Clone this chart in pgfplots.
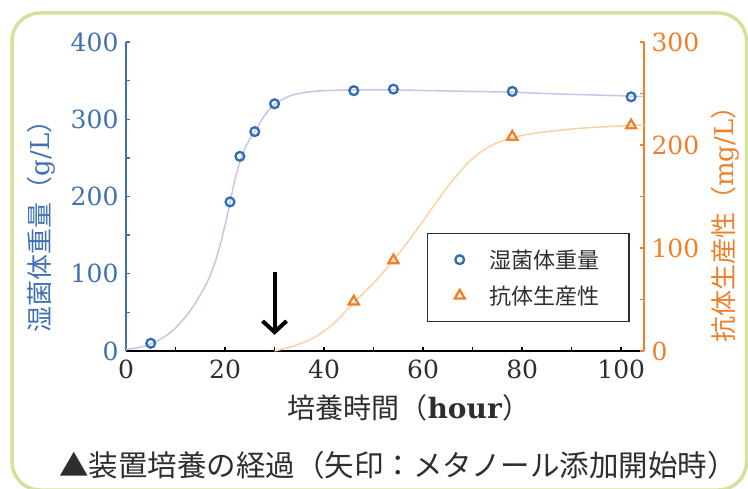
\documentclass[border=0pt]{standalone}
\usepackage{fontspec}
\setmainfont{DejaVu Serif}
\usepackage{pgfplots}
\pgfplotsset{compat=1.18}
\usetikzlibrary{arrows.meta}
\newfontfamily\jp{Noto Sans CJK JP}
\definecolor{bl}{HTML}{3F71B3}
\definecolor{blmark}{HTML}{2F6DB5}
\definecolor{blcurve}{HTML}{C3C6E8}
\definecolor{orr}{HTML}{F07F2A}
\definecolor{orcurve}{HTML}{FBD2A6}
\definecolor{framec}{HTML}{D3E29A}
\definecolor{txt}{HTML}{2E2E2E}
\begin{document}
\begin{tikzpicture}[x=1pt,y=1pt]
\path[use as bounding box] (0,0) rectangle (748,488);
\begin{scope}
\clip (0,0) rectangle (748,488);
\draw[framec, line width=3.5pt, rounded corners=28pt] (12,-2) rectangle (746.5,475);
\end{scope}
\begin{axis}[
  at={(126pt,137pt)}, anchor=south west,
  scale only axis, width=518pt, height=309pt,
  xmin=0, xmax=104.6, ymin=0, ymax=400,
  axis x line*=bottom, axis y line*=left,
  x axis line style={-, black, line width=2.5pt},
  y axis line style={-, bl, line width=2.5pt},
  xtick={0,20,...,100}, ytick={0,100,...,400},
  minor tick num=1,
  tick align=inside,
  major tick length=4pt, minor tick length=4pt,
  x tick style={black, line width=1.5pt},
  y tick style={bl, line width=1.5pt},
  /pgf/number format/assume math mode=true,
  xticklabel style={txt, font=\fontsize{25}{25}\selectfont, yshift=-5pt},
  yticklabel style={bl, font=\fontsize{25}{25}\selectfont, xshift=-4pt},
  xlabel={{\jp 培養時間（}\textbf{hour}{\jp ）}},
  xlabel style={txt, font=\fontsize{28}{28}\selectfont, at={(rel axis cs:0.546,-0.184)}, anchor=center},
  ylabel={{\jp 湿菌体重量（}g/L{\jp ）}},
  ylabel style={bl, font=\fontsize{26}{26}\selectfont, at={(rel axis cs:-0.164,0.425)}, anchor=center},
  clip=false,
]
\addplot[blcurve, line width=1.5pt, smooth, tension=0.5] coordinates {
 (0,2) (3,5) (6,12) (9,24) (12,44) (14,62) (16,84) (17,98) (18,115) (19,137) (20,163)
 (21,192) (22,222) (23,245) (24,262) (25,274) (26,284) (28,305) (30,319) (33,330)
 (36,334.5) (40,337) (46,338) (54,338) (62,337) (70,336) (78,335) (86,333)
 (94,331.5) (102,330) (104.6,329.5)};
\addplot[only marks, mark=o, mark size=4.4pt, blmark, line width=2.3pt] coordinates {
 (5,10) (21,193) (23,252) (26,284) (30,320) (46,337) (54,339) (78,336) (102,329)};
\draw[black, line width=4pt, -{Straight Barb[length=11pt,width=24pt,line width=4pt]}] (axis cs:30,102) -- (axis cs:30,21);
\end{axis}
\begin{axis}[
  at={(126pt,137pt)}, anchor=south west,
  scale only axis, width=518pt, height=309pt,
  xmin=0, xmax=104.6, ymin=0, ymax=300,
  axis x line=none, axis y line*=right,
  y axis line style={-, orr, line width=2.2pt},
  ytick={0,100,...,300}, minor tick num=1,
  tick align=inside,
  major tick length=4pt, minor tick length=4pt,
  y tick style={orr, line width=1.5pt},
  /pgf/number format/assume math mode=true,
  yticklabel style={orr, font=\fontsize{25}{25}\selectfont, xshift=4pt},
  ylabel={{\jp 抗体生産性（}mg/L{\jp ）}},
  ylabel style={orr, font=\fontsize{26}{26}\selectfont, at={(rel axis cs:1.156,0.43)}, anchor=center},
  legend style={at={(rel axis cs:0.581,0.382)}, anchor=north west, draw=txt, line width=1.5pt,
     font=\jp\fontsize{22}{22}\selectfont, text=txt, row sep=12pt, inner xsep=27pt, inner ysep=14pt,
     /tikz/every odd column/.append style={column sep=23pt}},
  legend cell align=left,
  clip=false,
]
\addlegendimage{only marks, mark=o, mark size=4.4pt, blmark, line width=2.3pt}
\addlegendentry{湿菌体重量\hspace{5pt}}
\addplot[orcurve, line width=1.5pt, smooth, tension=0.5, forget plot] coordinates {
 (30,0) (34,5) (38,13) (42,27) (46,47) (50,66) (54,88) (58,113) (62,140) (66,166)
 (70,187) (74,200) (78,207) (82,211) (86,213.5) (90,215.5) (94,217) (98,218)
 (102,219) (104.6,219.5)};
\addplot[only marks, mark=triangle, mark size=5.8pt, orr, line width=2.3pt] coordinates {
 (46,48) (54,88) (78,208) (102,219)};
\addlegendentry{抗体生産性}
\end{axis}
\node[txt, font=\jp\fontsize{29.5}{29.5}\selectfont, anchor=center] at (398,23) {▲装置培養の経過（矢印：メタノール添加開始時）};
\end{tikzpicture}
\end{document}
